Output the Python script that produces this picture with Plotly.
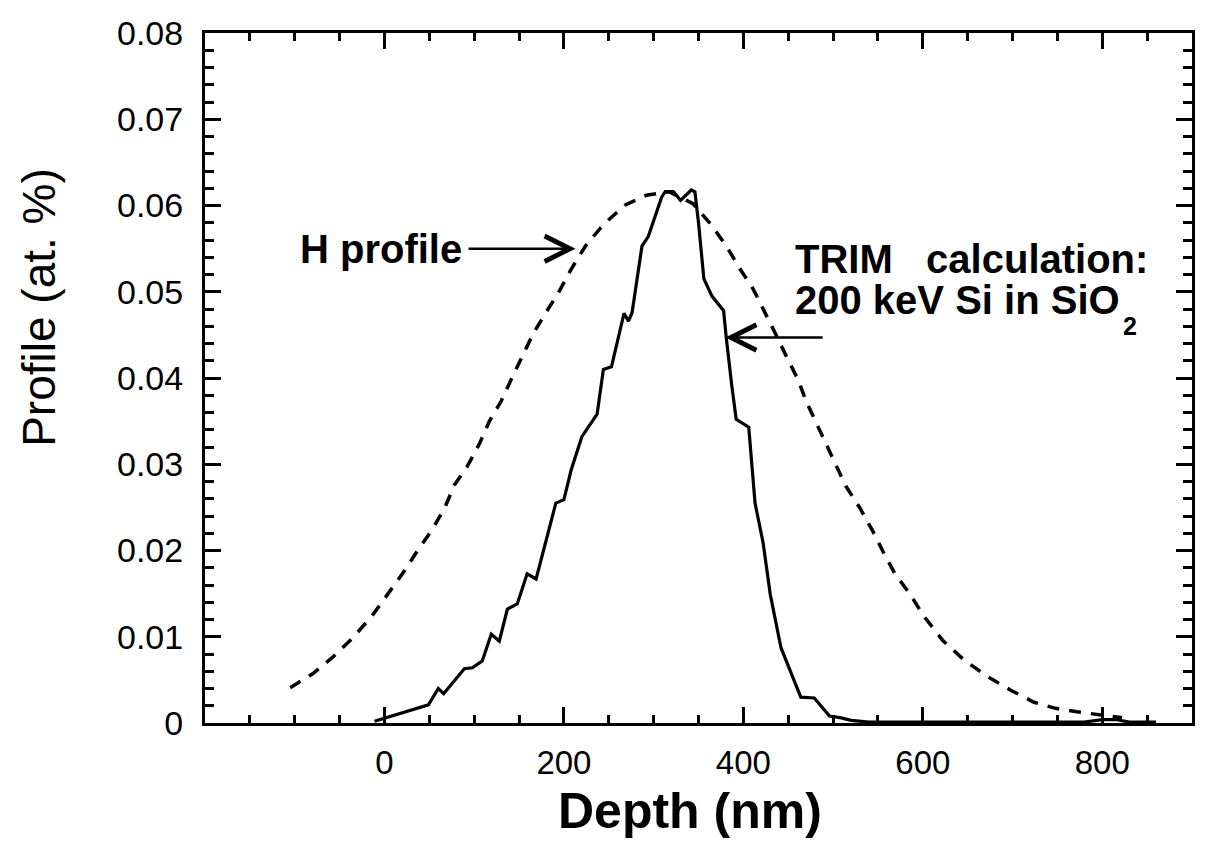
import plotly.graph_objects as go

# H profile (dashed), depth in nm, profile in at. %
h_depth = [-105, -80, -58, -36, -14, 3, 20, 37, 53, 67, 78, 92, 106, 117, 130, 142, 154, 166,
           180, 194, 208, 224, 244, 269, 292, 317, 344, 364, 381, 396, 411, 423, 435, 448,
           461, 470, 481, 492, 503, 514, 530, 544, 556, 569, 586, 601, 622, 646, 672, 698,
           724, 748, 772, 797, 822]
h_profile = [0.0041, 0.0057, 0.0076, 0.0098, 0.0124, 0.0149, 0.0173, 0.0200, 0.0224, 0.0249,
             0.0276, 0.0297, 0.0324, 0.0350, 0.0373, 0.0400, 0.0425, 0.0452, 0.0476, 0.0499,
             0.0526, 0.0553, 0.0578, 0.0601, 0.0612, 0.0616, 0.0602, 0.0578, 0.0553, 0.0527,
             0.0503, 0.0479, 0.0453, 0.0425, 0.0398, 0.0373, 0.0349, 0.0324, 0.0299, 0.0275,
             0.0249, 0.0223, 0.0198, 0.0173, 0.0149, 0.0124, 0.0096, 0.0073, 0.0054, 0.0038,
             0.0024, 0.0017, 0.0013, 0.0009, 0.0006]

# TRIM calculation (solid)
trim_depth = [-11, 49, 60, 66, 89, 98, 109, 119, 128, 137, 148, 159, 169, 191, 200, 208, 220,
              228, 237, 244, 253, 267, 272, 276, 287, 294, 309, 313, 322, 330, 342, 346, 350,
              356, 365, 378, 381, 387, 392, 406, 413, 422, 430, 442, 464, 479, 496, 509, 520,
              540, 780, 800, 815, 830, 860]
trim_profile = [0.0002, 0.0021, 0.0040, 0.0034, 0.0063, 0.0064, 0.0072, 0.0103, 0.0095, 0.0132,
                0.0138, 0.0173, 0.0167, 0.0255, 0.0259, 0.0293, 0.0332, 0.0344, 0.0358, 0.0410,
                0.0413, 0.0475, 0.0466, 0.0476, 0.0553, 0.0564, 0.0610, 0.0616, 0.0616, 0.0606,
                0.0618, 0.0616, 0.0580, 0.0515, 0.0495, 0.0478, 0.0446, 0.0392, 0.0352, 0.0343,
                0.0255, 0.0209, 0.0149, 0.0087, 0.0030, 0.0029, 0.0008, 0.0006, 0.0003, 0.0001,
                0.0001, 0.0004, 0.0004, 0.0001, 0.0001]

x_tickvals = [0, 200, 400, 600, 800]
x_ticktext = ["0", "200", "400", "600", "800"]
y_tickvals = [0, 0.01, 0.02, 0.03, 0.04, 0.05, 0.06, 0.07, 0.08]
y_ticktext = ["0", "0.01", "0.02", "0.03", "0.04", "0.05", "0.06", "0.07", "0.08"]

FONT = "Liberation Sans, Arial, Helvetica, sans-serif"

fig = go.Figure()
fig.add_trace(go.Scatter(x=h_depth, y=h_profile, mode="lines",
                         line=dict(color="black", width=3.5, dash="12px,10px"),
                         showlegend=False, hoverinfo="skip"))
fig.add_trace(go.Scatter(x=trim_depth, y=trim_profile, mode="lines",
                         line=dict(color="black", width=3.2),
                         showlegend=False, hoverinfo="skip"))

axis_common = dict(showline=True, linecolor="black", linewidth=3, mirror="allticks",
                   ticks="inside", tickcolor="black", tickwidth=2.5, ticklen=16,
                   showgrid=False, zeroline=False, ticklabeloverflow="allow")

fig.update_xaxes(range=[-200, 900], tickmode="array", tickvals=[-200] + x_tickvals,
                 ticktext=[""] + x_ticktext,
                 tickfont=dict(family=FONT, size=33, color="black"),
                 ticklabelstandoff=8,
                 minor=dict(ticks="inside", dtick=50, tick0=0, ticklen=8, tickwidth=2.5,
                            tickcolor="black"),
                 **axis_common)
fig.update_yaxes(range=[0, 0.08], tickmode="array", tickvals=y_tickvals, ticktext=y_ticktext,
                 tickfont=dict(family=FONT, size=34, color="black"),
                 ticklabelstandoff=12,
                 minor=dict(ticks="inside", dtick=0.002, tick0=0, ticklen=9, tickwidth=2.5,
                            tickcolor="black"),
                 **axis_common)

ann_font = dict(family=FONT, size=40, color="black")
annotations = [
    dict(x=-96, y=0.0550, xref="x", yref="y", text="<b>H profile</b>", showarrow=False,
         xanchor="left", yanchor="middle", font=ann_font),
    dict(x=213, y=0.0550, ax=92, ay=0.0550, xref="x", yref="y", axref="x", ayref="y",
         text="", showarrow=True, arrowhead=5, arrowsize=2, arrowwidth=2.5,
         arrowcolor="black"),
    dict(x=455, y=0.0538, xref="x", yref="y", text="<b>TRIM\u00a0\u00a0\u00a0calculation:</b>",
         showarrow=False, xanchor="left", yanchor="middle", font=ann_font),
    dict(x=455, y=0.0490, xref="x", yref="y", text="<b>200 keV Si in SiO</b>",
         showarrow=False, xanchor="left", yanchor="middle", font=ann_font),
    dict(x=0.928, y=0.575, xref="paper", yref="paper", text="<b>2</b>",
         showarrow=False, xanchor="left", yanchor="middle",
         font=dict(family=FONT, size=25, color="black")),
    dict(x=380, y=0.0447, ax=490, ay=0.0447, xref="x", yref="y", axref="x", ayref="y",
         text="", showarrow=True, arrowhead=5, arrowsize=2, arrowwidth=2.5,
         arrowcolor="black"),
    dict(x=-0.169, y=0.602, xref="paper", yref="paper", text="Profile (at. %)",
         showarrow=False, textangle=-90, xanchor="center", yanchor="middle",
         font=dict(family=FONT, size=46, color="black")),
    dict(x=0.491, y=-0.127, xref="paper", yref="paper", text="<b>Depth (nm)</b>",
         showarrow=False, xanchor="center", yanchor="middle",
         font=dict(family=FONT, size=50, color="black")),
]

# the page body adds an 8px margin, so the figure is sized to fit inside it
fig.update_layout(width=1193, height=836, autosize=False,
                  margin=dict(l=197, r=6, t=16, b=121),
                  paper_bgcolor="white", plot_bgcolor="white",
                  annotations=annotations, showlegend=False)

fig.write_html("out.html")
